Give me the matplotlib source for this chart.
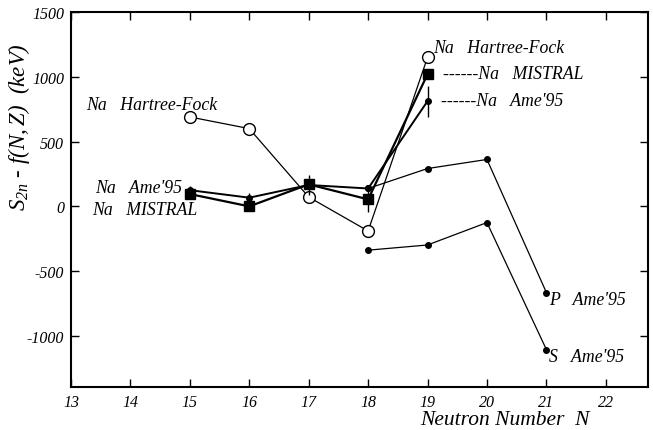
import numpy as np
import matplotlib
matplotlib.use("Agg")
import matplotlib.pyplot as plt

# ----------------------------------------------------------------------
# Data
# ----------------------------------------------------------------------
n_na = [15, 16, 17, 18, 19]
na_hf = [690, 600, 72, -190, 1150]
na_mistral = [95, 0, 170, 54, 1020]
na_mistral_err = [0, 0, 0, 100, 0]
na_ame = [125, 67, 165, 138, 812]
na_ame_err = [30, 40, 80, 0, 120]

n_ps = [18, 19, 20, 21]
p_ame = [138, 292, 362, -665]
s_ame = [-338, -298, -125, -1105]

xticks = [13, 14, 15, 16, 17, 18, 19, 20, 21, 22]
yticks = [-1000, -500, 0, 500, 1000, 1500]

# ----------------------------------------------------------------------
# Style
# ----------------------------------------------------------------------
plt.rcParams['font.family'] = ['Liberation Serif', 'DejaVu Serif']
plt.rcParams['font.style'] = 'italic'
plt.rcParams['axes.unicode_minus'] = False
plt.rcParams['mathtext.fontset'] = 'custom'
plt.rcParams['mathtext.it'] = 'Liberation Serif:italic'
plt.rcParams['mathtext.rm'] = 'Liberation Serif:italic'

fig = plt.figure(figsize=(6.53, 4.31), dpi=100)
ax = fig.add_axes([71 / 653, 1 - 388 / 431, (648 - 71) / 653, (388 - 13) / 431])

# ----------------------------------------------------------------------
# Curves
# ----------------------------------------------------------------------
ax.plot(n_na, na_hf, color='black', lw=0.9, marker='o', ms=8.5,
        mfc='white', mec='black', mew=1.0, zorder=3)
ax.errorbar(n_na, na_ame, yerr=na_ame_err, color='black', lw=1.4,
            marker='o', ms=4, elinewidth=1.0, capsize=0, zorder=4)
ax.errorbar(n_na, na_mistral, yerr=na_mistral_err, color='black', lw=1.6,
            marker='s', ms=6.5, elinewidth=1.0, capsize=0, zorder=5)
ax.plot(n_ps, p_ame, color='black', lw=0.9, marker='o', ms=4)
ax.plot(n_ps, s_ame, color='black', lw=0.9, marker='o', ms=4)

# ----------------------------------------------------------------------
# Labels
# ----------------------------------------------------------------------
fs = 12.8
ax.text(13.25, 785, "Na   Hartree-Fock", fontsize=fs, va='center')
ax.text(13.40, 146, "Na   Ame'95", fontsize=fs, va='center')
ax.text(13.35, -25, "Na   MISTRAL", fontsize=fs, va='center')
ax.text(19.10, 1225, "Na   Hartree-Fock", fontsize=fs, va='center')
ax.text(19.26, 1023, "------Na   MISTRAL", fontsize=fs, va='center')
ax.text(19.22, 815, "------Na   Ame'95", fontsize=fs, va='center')
ax.text(21.05, -715, "P   Ame'95", fontsize=fs, va='center')
ax.text(21.05, -1155, "S   Ame'95", fontsize=fs, va='center')

ax.set_xlim(13, 22.71)
ax.set_ylim(-1394, 1500)
ax.set_xticks(xticks)
ax.set_xticklabels([str(v) for v in xticks], fontstyle='italic')
ax.set_yticks(yticks)
ax.set_yticklabels([str(v) for v in yticks], fontstyle='italic')
ax.tick_params(direction='in', length=6, width=1.0, top=True, right=True,
               labelsize=11.5, pad=5)
for s in ax.spines.values():
    s.set_linewidth(1.5)

fig.text(19 / 653, 1 - 127 / 431, r"$S_{2n}$ - $f(N,Z)$  $(keV)$", fontsize=16.5,
         rotation=90, ha='center', va='center')
fig.text(505 / 653, 1 - 430 / 431, "Neutron Number  N", fontsize=15.5,
         ha='center', va='bottom')

fig.savefig("out.png", dpi=100)
